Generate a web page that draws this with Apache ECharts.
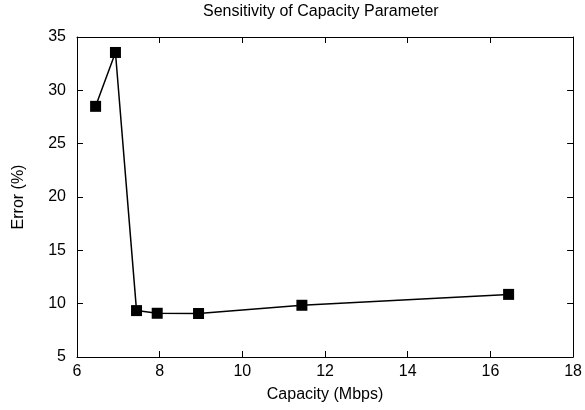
<!DOCTYPE html>
<html><head><meta charset="utf-8">
<script src="https://cdn.jsdelivr.net/npm/echarts@6/dist/echarts.min.js"></script>
<style>html,body{margin:0;padding:0;background:#fff}#c{width:585px;height:410px}</style>
</head><body><div id="c"></div>
<script>
const capacity = [6.45, 6.93, 7.44, 7.94, 8.94, 11.44, 16.44];
const errorPct = [28.5, 33.55, 9.35, 9.1, 9.08, 9.85, 10.87];
const xTicks = [6, 8, 10, 12, 14, 16, 18];
const yTicks = [5, 10, 15, 20, 25, 30, 35];

const font = 'Liberation Sans, Arial, sans-serif';
const chart = echarts.init(document.getElementById('c'), null, {renderer: 'canvas'});
const axisBase = {
  axisLine: {show: true, lineStyle: {color: '#000', width: 1}},
  axisTick: {show: true, inside: true, length: 6, lineStyle: {color: '#000', width: 1}},
  splitLine: {show: false}
};
chart.setOption({
  animation: false,
  backgroundColor: '#fff',
  title: {text: 'Sensitivity of Capacity Parameter', left: 203, top: 4, padding: 0,
    textStyle: {fontFamily: font, fontSize: 16, fontWeight: 'normal', color: '#000'}},
  grid: {left: 77, right: 11, top: 37, bottom: 53},
  xAxis: [
    Object.assign({}, axisBase, {type: 'value', min: xTicks[0], max: xTicks[xTicks.length-1], interval: 2,
      name: 'Capacity (Mbps)', nameLocation: 'middle', nameGap: 30,
      nameTextStyle: {fontFamily: font, fontSize: 16, color: '#000'},
      axisLabel: {fontFamily: font, fontSize: 16, color: '#000', margin: 7}}),
    Object.assign({}, axisBase, {type: 'value', position: 'top', min: xTicks[0], max: xTicks[xTicks.length-1], interval: 2,
      axisLabel: {show: false}})
  ],
  yAxis: [
    Object.assign({}, axisBase, {type: 'value', min: yTicks[0], max: yTicks[yTicks.length-1], interval: 5,
      name: 'Error (%)', nameLocation: 'middle', nameGap: 50, nameRotate: 90,
      nameTextStyle: {fontFamily: font, fontSize: 16, color: '#000'},
      axisLabel: {fontFamily: font, fontSize: 16, color: '#000', margin: 11}}),
    Object.assign({}, axisBase, {type: 'value', position: 'right', min: yTicks[0], max: yTicks[yTicks.length-1], interval: 5,
      axisLabel: {show: false}})
  ],
  series: [{
    type: 'line',
    data: capacity.map((x, i) => [x, errorPct[i]]),
    symbol: 'rect', symbolSize: 11,
    itemStyle: {color: '#000'},
    lineStyle: {color: '#000', width: 1.5}
  }]
});
</script></body></html>
